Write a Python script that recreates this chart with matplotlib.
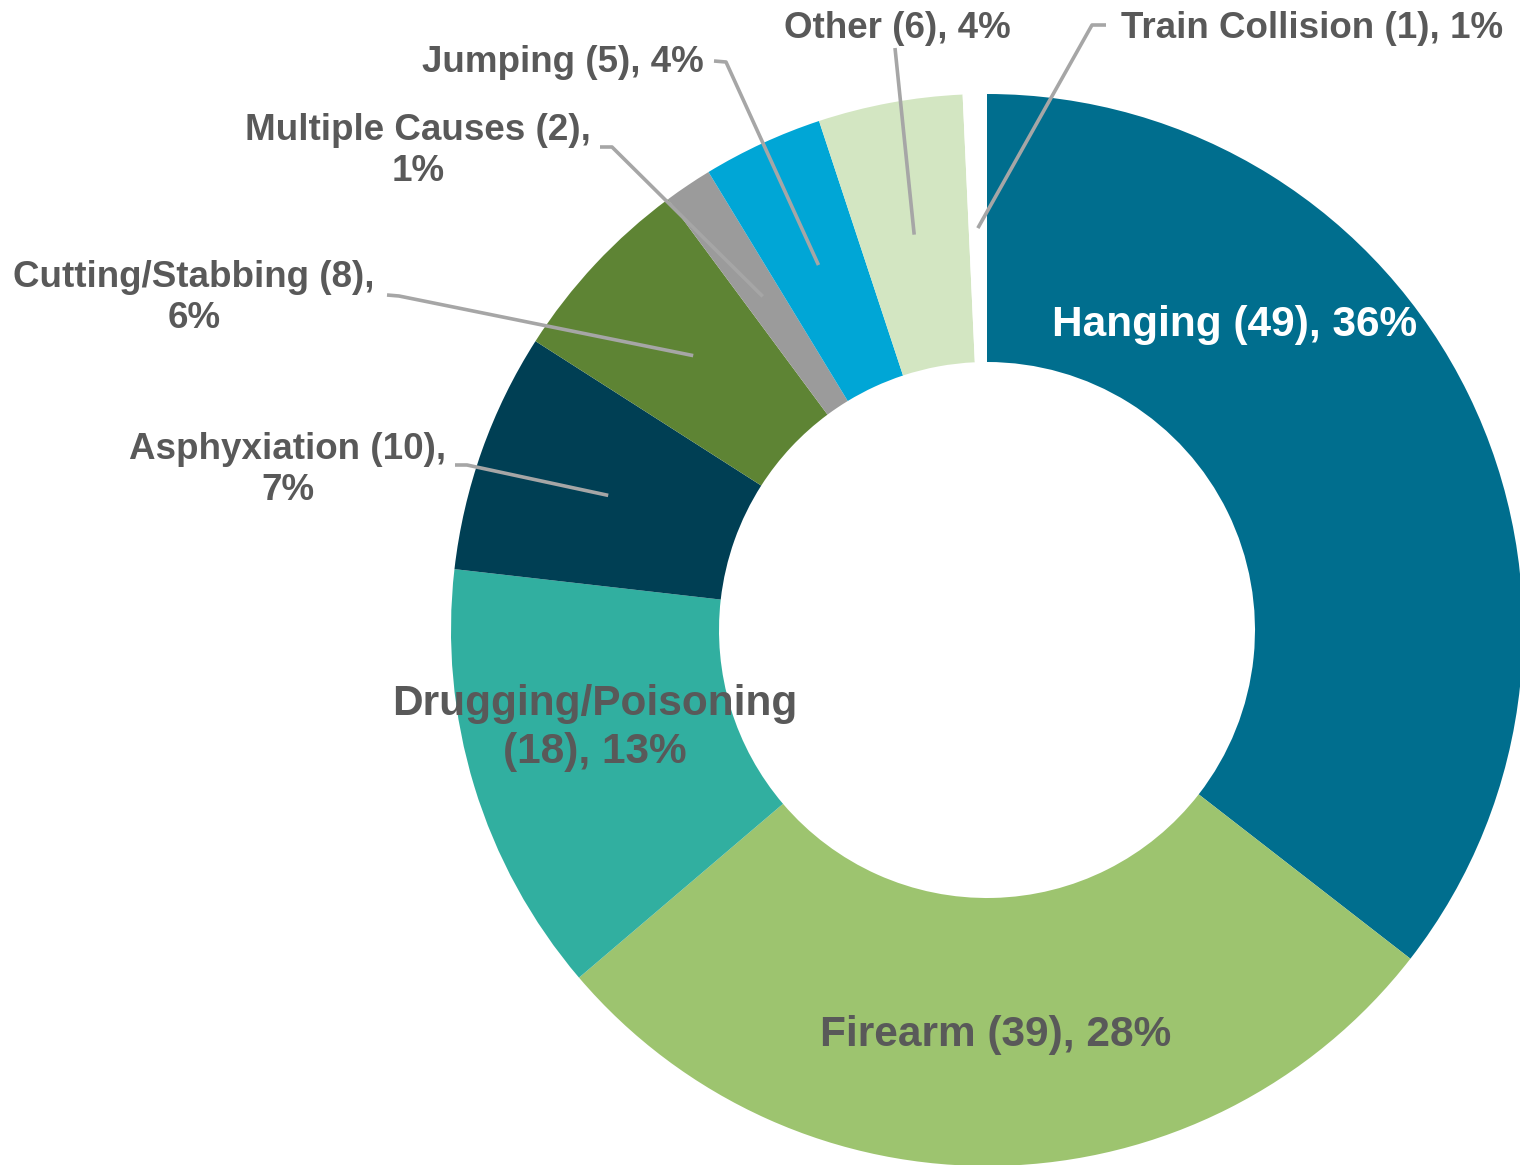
import numpy as np
import matplotlib
matplotlib.use("Agg")
import matplotlib.pyplot as plt

# ---- data ----
categories = ["Hanging", "Firearm", "Drugging/Poisoning", "Asphyxiation",
              "Cutting/Stabbing", "Multiple Causes", "Jumping", "Other",
              "Train Collision"]
counts = [49, 39, 18, 10, 8, 2, 5, 6, 1]
percent_labels = ["36%", "28%", "13%", "7%", "6%", "1%", "4%", "4%", "1%"]
colors = ["#006E8E", "#9DC46F", "#31AFA0", "#003F54", "#5E8434",
          "#9B9B9B", "#00A6D6", "#D3E6C2", "#FFFFFF"]

W, H = 1520, 1165
fig = plt.figure(figsize=(W / 100, H / 100), dpi=100)
ax = fig.add_axes([0, 0, 1, 1])
ax.set_xlim(0, W)
ax.set_ylim(0, H)
ax.set_aspect("equal")
ax.axis("off")

cx, cy_pix, R = 987, 630, 536
cy = H - cy_pix
wedges, _ = ax.pie(counts, colors=colors, startangle=90, counterclock=False,
                   radius=R, center=(cx, cy),
                   wedgeprops=dict(width=R * 0.5, linewidth=0))
ax.set_xlim(0, W)
ax.set_ylim(0, H)

FONT = ["Liberation Sans", "DejaVu Sans"]
txt_col = "#595959"
lead_col = "#A6A6A6"

def P(x, y):
    return (x, H - y)

def lab(i, sep):
    return f"{categories[i]} ({counts[i]}),{sep}{percent_labels[i]}"

layout = [
    (0, (1235, 325), None, 30.5, "white", lab(0, " ")),
    (1, (996, 1035), None, 30.5, txt_col, lab(1, " ")),
    (2, (595, 728), None, 30.5, txt_col, "Drugging/Poisoning\n(18), 13%"),
    (3, (288, 470), [(455, 465), (467, 465)], 26.5, txt_col, lab(3, "\n")),
    (4, (194, 298), [(387, 295), (399, 296)], 26.5, txt_col, lab(4, "\n")),
    (5, (418, 151), [(600, 147), (612, 147)], 26.5, txt_col, lab(5, "\n")),
    (6, (563, 62), [(714, 61), (726, 62)], 26.5, txt_col, lab(6, " ")),
    (7, (897, 28), [(895, 48)], 26.5, txt_col, lab(7, " ")),
    (8, (1312, 28), [(1106, 25), (1092, 25)], 26.5, txt_col, lab(8, " ")),
]

total = sum(counts)
cum = np.cumsum([0] + counts)
for i, (tx, ty), elbow, fs, col, text in layout:
    ax.text(*P(tx, ty), text, ha="center", va="center", fontsize=fs,
            color=col, fontweight="bold", family=FONT, linespacing=1.25)
    if elbow is not None:
        mid = (cum[i] + cum[i + 1]) / 2
        ang = np.deg2rad(90 - 360 * mid / total)
        r = R * 0.75
        ex, ey = cx + r * np.cos(ang), cy + r * np.sin(ang)
        xs = [e[0] for e in elbow] + [ex]
        ys = [H - e[1] for e in elbow] + [ey]
        ax.plot(xs, ys, color=lead_col, lw=2.6, solid_capstyle="butt")

fig.savefig("out.png", dpi=100)
